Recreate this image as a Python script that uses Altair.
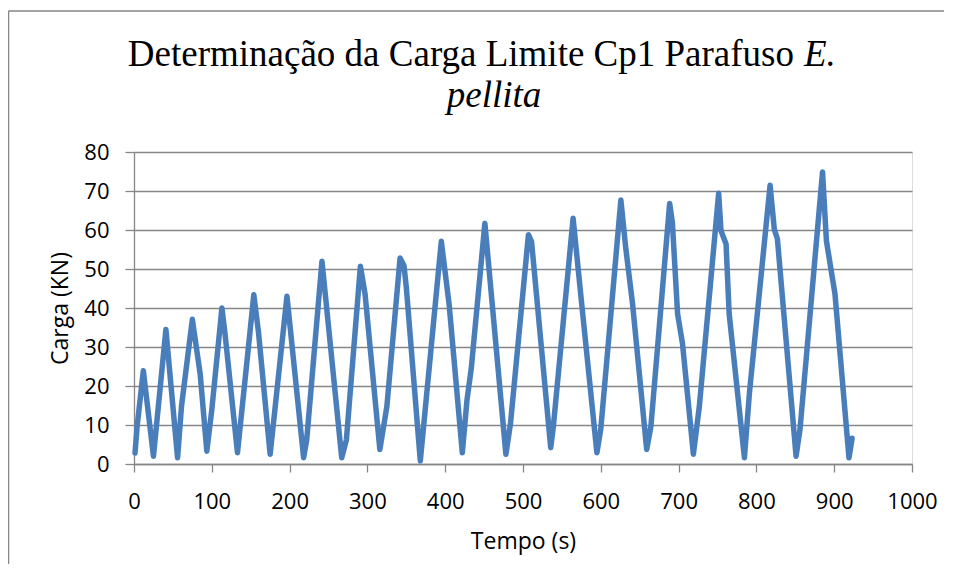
import altair as alt
import pandas as pd

# Time (s) and load (kN)
tempo = [1.3, 4, 12, 25, 41, 56, 61, 75, 85, 93.6, 100, 113, 117, 133, 144, 154, 160, 175,
         196.6, 218, 222, 241.6, 267, 273, 291, 297, 316, 325, 342, 347, 350, 368, 395, 405,
         422, 428, 433.5, 451, 478, 484, 507, 511, 535.6, 539, 564.4, 575, 595, 600, 625.8,
         632, 640.8, 659, 664.4, 688.5, 692, 698.7, 705, 719, 726.6, 751.5, 754.5, 761, 765,
         784.6, 791, 817.6, 823, 827, 851, 856, 885, 890, 895.5, 901, 919, 923]
carga = [2.8, 9.6, 23.9, 2.0, 34.5, 1.6, 14.7, 37.1, 23.2, 3.3, 13.9, 40.0, 33.4, 2.9, 24.0,
         43.4, 33.8, 2.5, 43.0, 1.6, 6.2, 52.0, 1.6, 6.2, 50.7, 43.6, 3.7, 14.7, 52.8, 50.9,
         45.3, 0.8, 57.1, 41.0, 2.9, 16.4, 24.5, 61.7, 2.5, 10.5, 58.8, 57.0, 4.2, 9.6, 63.0,
         41.9, 2.9, 9.0, 67.7, 55.5, 41.1, 3.7, 9.6, 66.8, 61.9, 38.5, 30.9, 2.5, 14.7, 69.4,
         59.8, 56.4, 38.5, 1.6, 18.1, 71.5, 60.2, 57.7, 2.0, 8.8, 74.9, 57.2, 50.4, 43.6,
         1.6, 6.6]

x_ticks = list(range(0, 1001, 100))
y_ticks = list(range(0, 81, 10))

title_line1 = "Determinação da Carga Limite Cp1 Parafuso"
title_italic1 = "E."
title_line2 = "pellita"

df = pd.DataFrame({"Tempo": tempo, "Carga": carga})

GRAY = "#868686"
LABEL_FONT = "Open Sans"
SERIF = "Liberation Serif"

line = alt.Chart(df).mark_line(
    color="#4A7EBB", strokeWidth=5.5, strokeJoin="round", strokeCap="round"
).encode(
    x=alt.X("Tempo:Q", scale=alt.Scale(domain=[0, 1000], nice=False),
            axis=alt.Axis(values=x_ticks, format="d", title="Tempo (s)", grid=False,
                          domainColor=GRAY, domainWidth=1.3, tickColor=GRAY, tickWidth=1.3,
                          tickSize=8, labelFont=LABEL_FONT, labelFontSize=22,
                          labelColor="black", labelPadding=19, labelFlush=False,
                          titleFont=LABEL_FONT, titleFontSize=23, titleFontWeight="normal",
                          titleColor="black", titlePadding=18)),
    y=alt.Y("Carga:Q", scale=alt.Scale(domain=[0, 80], nice=False),
            axis=alt.Axis(values=y_ticks, format="d", title="Carga (KN)", grid=True,
                          gridColor=GRAY, gridWidth=1.3,
                          domainColor=GRAY, domainWidth=1.3, tickColor=GRAY, tickWidth=1.3,
                          tickSize=9, labelFont=LABEL_FONT, labelFontSize=22,
                          labelColor="black", labelPadding=16,
                          titleFont=LABEL_FONT, titleFontSize=23, titleFontWeight="normal",
                          titleColor="black", titlePadding=11)),
    order="Tempo:Q",
)

one = alt.Data(values=[{}])

t1 = alt.Chart(one).mark_text(
    text=title_line1, align="right", baseline="alphabetic", font=SERIF, fontSize=37,
    color="black"
).encode(x=alt.value(660), y=alt.value(-86))

t2 = alt.Chart(one).mark_text(
    text=title_italic1, align="left", baseline="alphabetic", font=SERIF, fontSize=37,
    fontStyle="italic", color="black"
).encode(x=alt.value(670), y=alt.value(-86))

t3 = alt.Chart(one).mark_text(
    text=title_line2, align="center", baseline="alphabetic", font=SERIF, fontSize=37,
    fontStyle="italic", color="black"
).encode(x=alt.value(360), y=alt.value(-45))

frame_top = alt.Chart(one).mark_rule(color=GRAY, strokeWidth=1.5).encode(
    x=alt.value(-125.5), x2=alt.value(810), y=alt.value(-141))
frame_left = alt.Chart(one).mark_rule(color=GRAY, strokeWidth=1.5).encode(
    x=alt.value(-125.5), y=alt.value(-141), y2=alt.value(412))

chart = alt.layer(frame_top, frame_left, line, t1, t2, t3).properties(
    width=778, height=312,
    padding={"left": 126, "top": 144, "right": 33, "bottom": 100},
    autosize=alt.AutoSizeParams(type="none"),
).configure_view(stroke=None).configure(background="white")

chart.save("out.html", embed_options={"renderer": "svg", "actions": False})
